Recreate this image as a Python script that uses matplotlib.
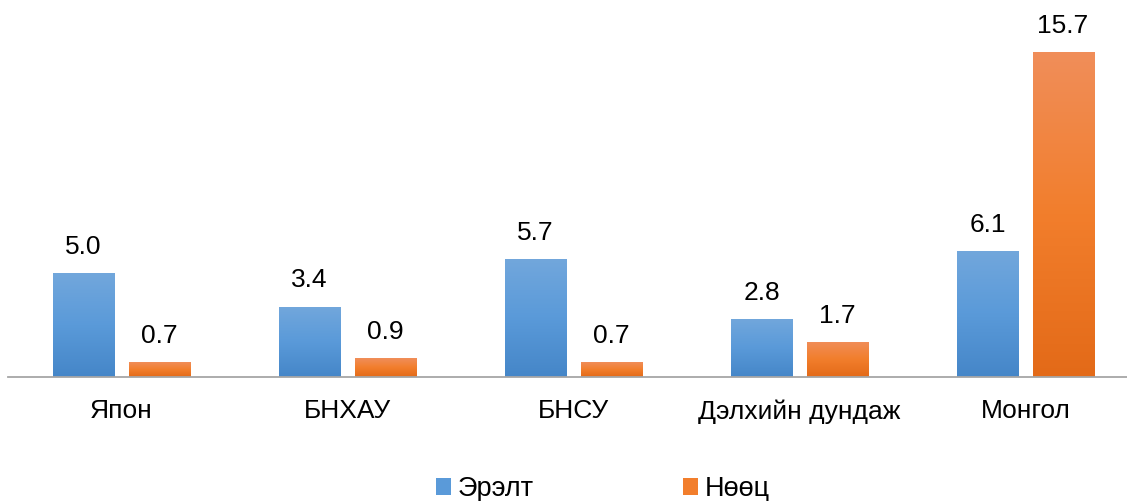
import matplotlib; matplotlib.use("Agg")
import matplotlib.pyplot as plt
import numpy as np
from matplotlib.colors import LinearSegmentedColormap
from matplotlib.patches import Patch

plt.rcParams.update({"font.family": ["Liberation Sans", "DejaVu Sans"], "font.size": 19})

categories = ["Япон", "БНХАУ", "БНСУ", "Дэлхийн дундаж", "Монгол"]
demand = [5.0, 3.4, 5.7, 2.8, 6.1]     # Эрэлт
reserve = [0.7, 0.9, 0.7, 1.7, 15.7]   # Нөөц
series = ["Эрэлт", "Нөөц"]

BLUE = ["#4586c8", "#5a9ad9", "#72a7dc"]     # bottom -> top
ORANGE = ["#e36a18", "#f27e2c", "#f08e5a"]

fig = plt.figure(figsize=(11.27, 5.01), dpi=100)
ax = fig.add_axes([8/1127, 124/501, 1119/1127, 373/501])
x = np.arange(len(categories)); w = 0.27; off = 0.167

def grad_bars(xs, vals, cols):
    cmap = LinearSegmentedColormap.from_list("g", cols)
    grad = np.linspace(0, 1, 256).reshape(-1, 1)
    bars = ax.bar(xs, vals, w, color="none", edgecolor="none")
    for b in bars:
        x0, y0 = b.get_x(), b.get_y()
        im = ax.imshow(grad, cmap=cmap, origin="lower", aspect="auto",
                       extent=[x0, x0 + b.get_width(), y0, y0 + b.get_height()], zorder=2)
        im.set_clip_path(b)
    for xi, v in zip(xs, vals):
        ax.text(xi, v + 0.68, f"{v:.1f}", ha="center", va="bottom", fontsize=19, color="#000000")
    return bars

grad_bars(x - off, demand, BLUE)
grad_bars(x + off, reserve, ORANGE)

ax.set_xlim(-0.502, 4.45)
ax.set_ylim(0, 18)
for s in ["top", "right", "left"]:
    ax.spines[s].set_visible(False)
ax.spines["bottom"].set_color("#a6a6a6"); ax.spines["bottom"].set_linewidth(1.3)
ax.set_yticks([])
ax.set_xticks(x); ax.set_xticklabels(categories, fontsize=19)
ax.tick_params(axis="x", length=0, pad=16)

handles = [Patch(facecolor=BLUE[1]), Patch(facecolor=ORANGE[1])]
fig.legend(handles, series, loc="center", bbox_to_anchor=(603/1127, 12/501), ncol=2,
           frameon=False, fontsize=19.5, handlelength=0.55, handleheight=0.55,
           handletextpad=0.25, columnspacing=5.5)

fig.savefig("out.png", dpi=100)
